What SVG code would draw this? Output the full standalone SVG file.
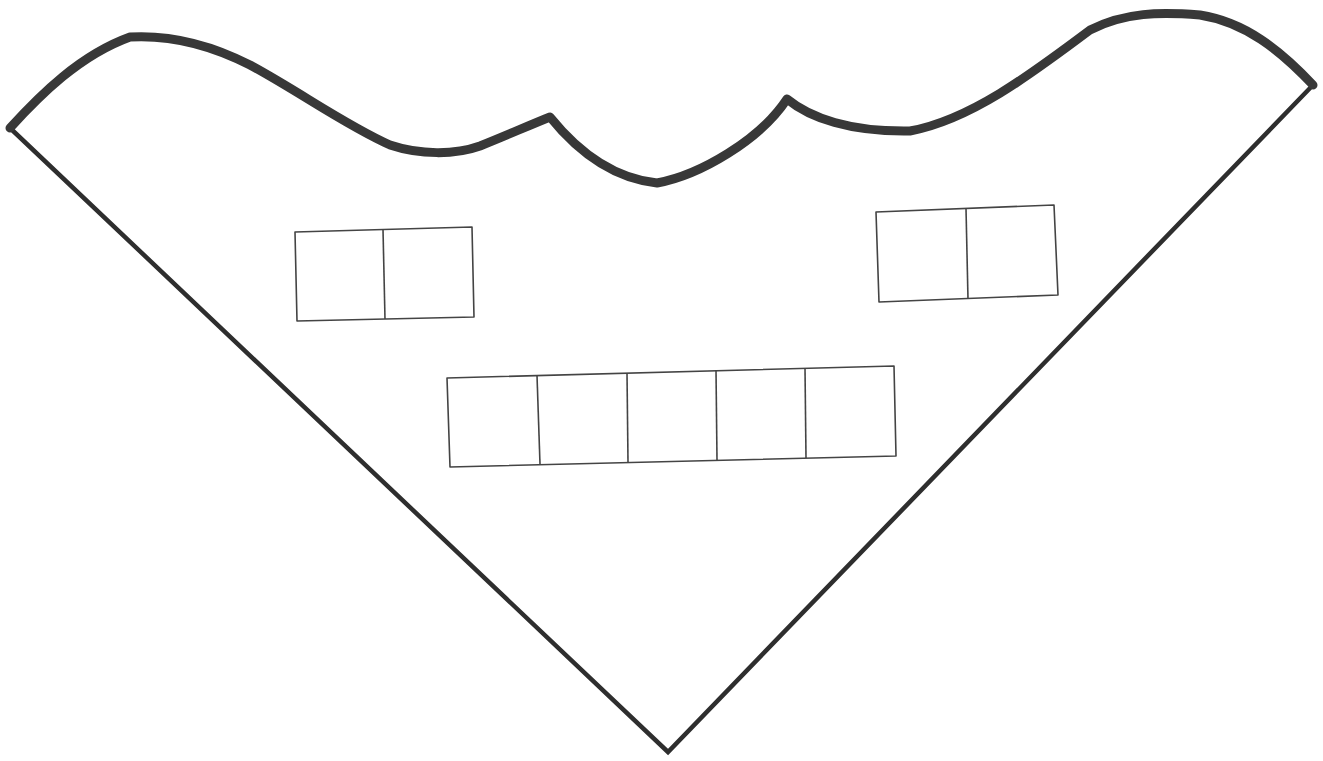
<svg xmlns="http://www.w3.org/2000/svg" width="1323" height="761" viewBox="0 0 1323 761">
<style>
.wave{fill:none;stroke:#383838;stroke-width:9;stroke-linejoin:round;stroke-linecap:round}
.edge{fill:none;stroke:#2e2e2e;stroke-width:4.5;stroke-linecap:round;stroke-linejoin:miter}
.box{fill:none;stroke:#444;stroke-width:1.6;stroke-linejoin:round}
</style>
<rect width="1323" height="761" fill="#ffffff"/>
<g id="outline">
<polyline class="edge" points="10,128 668,752 1313,85"/>
<path class="wave" d="M10,128 C40,95 80,55 130,37 C165,35 205,42 250,65 C300,92 345,125 390,145 C420,155 455,155 480,146 C505,136 530,125 550,117 C575,148 610,178 657,183 C700,175 760,140 787,99 C810,118 850,132 910,131 C970,120 1030,75 1090,30 C1125,12 1160,12 1200,15 C1245,22 1280,50 1313,85"/>
</g>
<g id="box-left">
<polygon class="box" points="295,232 472,227 474,317 297,321"/>
<line class="box" x1="383" y1="229.5" x2="385" y2="319"/>
</g>
<g id="box-right">
<polygon class="box" points="876,212 1054,205 1058,295 879,302"/>
<line class="box" x1="966" y1="208.5" x2="968" y2="299"/>
</g>
<g id="box-row">
<polygon class="box" points="447,378 894,366 896,456 450,467"/>
<line class="box" x1="537" y1="375.5" x2="540" y2="464"/>
<line class="box" x1="627" y1="373" x2="628" y2="462"/>
<line class="box" x1="716" y1="370" x2="717" y2="460"/>
<line class="box" x1="805" y1="368" x2="806" y2="458"/>
</g>
</svg>
